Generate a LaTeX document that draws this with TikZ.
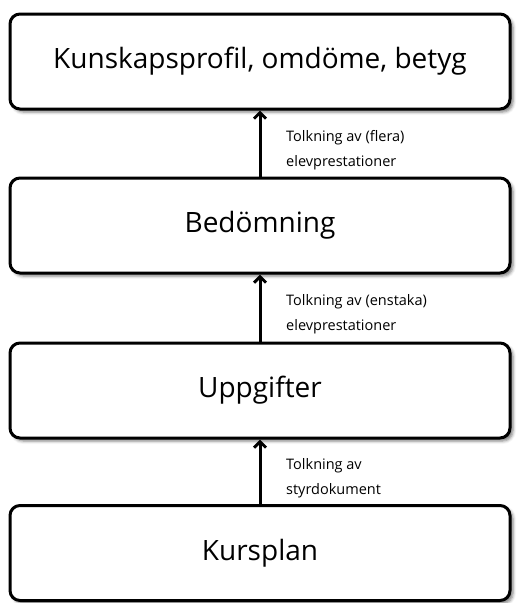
\documentclass[tikz,border=0pt]{standalone}
\usepackage{fontspec}
\setmainfont{Open Sans}
\usetikzlibrary{arrows.meta,shadows.blur}
\tikzset{
  stagebox/.style={draw=black, line width=3pt, rounded corners=10pt, fill=white,
    minimum width=500pt, minimum height=95pt, inner sep=0pt,
    font=\fontsize{28}{34}\selectfont,
    blur shadow={shadow xshift=3pt, shadow yshift=-3pt, shadow blur radius=3pt, shadow opacity=50}},
  flowarrow/.style={line width=3pt, -{Straight Barb[length=6pt,width=12pt,line width=3pt]}},
  steplabel/.style={anchor=west, align=left, inner sep=0pt, font=\fontsize{14.5}{25}\selectfont}
}
\begin{document}
\begin{tikzpicture}[x=1pt,y=-1pt]
\useasboundingbox (0,0) rectangle (524,603);
\node[stagebox] (profil) at (260,61.5) {Kunskapsprofil, omdöme, betyg};
\node[stagebox] (bedom) at (260,225.5) {Bedömning};
\node[stagebox] (uppg) at (260,390.5) {Uppgifter};
\node[stagebox] (kurs) at (260,553) {Kursplan};
\draw[flowarrow] (bedom.north) -- (profil.south);
\draw[flowarrow] (uppg.north) -- (bedom.south);
\draw[flowarrow] (kurs.north) -- (uppg.south);
\node[steplabel] (l1) at (286,150) {Tolkning av (flera)\\elevprestationer};
\node[steplabel] (l2) at (286,314) {Tolkning av (enstaka)\\elevprestationer};
\node[steplabel] (l3) at (286,478) {Tolkning av\\styrdokument};
\end{tikzpicture}
\end{document}
